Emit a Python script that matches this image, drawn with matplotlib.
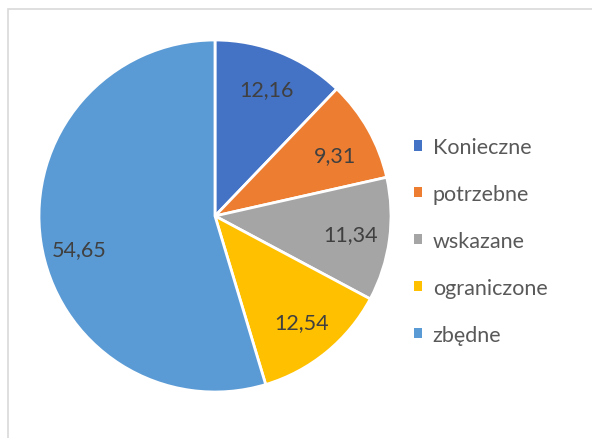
import matplotlib
matplotlib.use("Agg")
import matplotlib.pyplot as plt
from matplotlib.patches import Rectangle, Patch

categories = ["Konieczne", "potrzebne", "wskazane", "ograniczone", "zbędne"]
values = [12.16, 9.31, 11.34, 12.54, 54.65]
labels = ["12,16", "9,31", "11,34", "12,54", "54,65"]
colors = ["#4472C4", "#ED7D31", "#A5A5A5", "#FFC000", "#5B9BD5"]

plt.rcParams['font.family'] = ['Lato', 'DejaVu Sans']

W, H = 592, 439
fig = plt.figure(figsize=(W / 100, H / 100), dpi=100)
fig.patch.set_facecolor("white")

# outer chart border (left/top visible)
fig.add_artist(Rectangle((7.5 / W, -0.1), 1.2, 1.1 - 9.5 / H,
                         transform=fig.transFigure, fill=False,
                         edgecolor="#D9D9D9", linewidth=1.2))

cx, cy, R = 215, 217, 176
ax = fig.add_axes([(cx - R) / W, (H - cy - R) / H, 2 * R / W, 2 * R / H])
wedges, texts = ax.pie(values, colors=colors, startangle=90, counterclock=False,
                       labels=labels, labeldistance=0.78,
                       wedgeprops=dict(edgecolor="white", linewidth=2),
                       textprops=dict(color="#404040", fontsize=15.5))
label_shift = [0, -0.04, 0, 0, -0.074]
for t, s in zip(texts, label_shift):
    t.set_horizontalalignment("center")
    t.set_verticalalignment("center")
    x, y = t.get_position()
    t.set_position((x, y + s))
ax.set_xlim(-1, 1)
ax.set_ylim(-1, 1)
ax.set_aspect("equal")
ax.axis("off")

handles = [Patch(facecolor=c, edgecolor="none") for c in colors]
leg = fig.legend(handles, categories, loc="upper left",
                 bbox_to_anchor=(414 / W, 1 - 138 / H), frameon=False,
                 borderpad=0, borderaxespad=0,
                 fontsize=15.5, labelcolor="#595959", handlelength=0.37,
                 handleheight=0.37, handletextpad=0.5, labelspacing=1.25)

fig.savefig("out.png", dpi=100)
